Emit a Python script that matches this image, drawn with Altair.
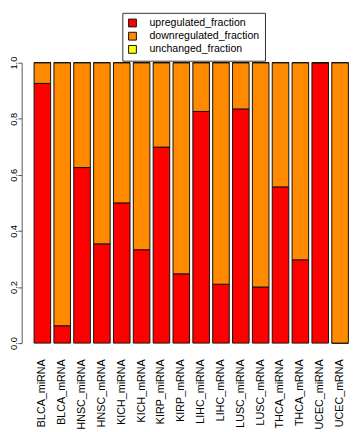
import altair as alt
import pandas as pd

categories = ["BLCA_miRNA", "BLCA_mRNA", "HNSC_miRNA", "HNSC_mRNA", "KICH_miRNA", "KICH_mRNA",
              "KIRP_miRNA", "KIRP_mRNA", "LIHC_miRNA", "LIHC_mRNA", "LUSC_miRNA", "LUSC_mRNA",
              "THCA_miRNA", "THCA_mRNA", "UCEC_miRNA", "UCEC_mRNA"]
upregulated = [0.926, 0.062, 0.626, 0.354, 0.500, 0.333, 0.699, 0.247, 0.826, 0.210, 0.835, 0.200,
               0.557, 0.297, 1.000, 0.000]
downregulated = [0.074, 0.938, 0.374, 0.646, 0.500, 0.667, 0.301, 0.753, 0.174, 0.790, 0.165, 0.800,
                 0.443, 0.703, 0.000, 1.000]
unchanged = [0.0, 0.0, 0.0, 0.0, 0.0, 0.0, 0.0, 0.0, 0.0, 0.0, 0.0, 0.0, 0.0, 0.0, 0.0, 0.0]

series_names = ["upregulated_fraction", "downregulated_fraction", "unchanged_fraction"]
series_colors = ["#FF0000", "#FF8A00", "#FFFF00"]
y_ticks = [0.0, 0.2, 0.4, 0.6, 0.8, 1.0]

rows = []
for k, (name, vals) in enumerate(zip(series_names, [upregulated, downregulated, unchanged])):
    for c, v in zip(categories, vals):
        rows.append({"category": c, "series": name, "value": v, "order": k})
df = pd.DataFrame(rows)

FONT = "Liberation Sans"

chart = alt.Chart(df).mark_bar(stroke="#111111", strokeWidth=1).encode(
    x=alt.X("category:N", sort=categories, title=None,
            scale=alt.Scale(paddingInner=0.165, paddingOuter=0.0825),
            axis=alt.Axis(labelAngle=270, labelAlign="right", labelBaseline="middle",
                          labelPadding=16, ticks=False, tickSize=0, domain=False,
                          labelFont=FONT, labelFontSize=11, labelColor="black")),
    y=alt.Y("value:Q", stack="zero", title=None,
            scale=alt.Scale(domain=[0, 1], nice=False, zero=True),
            axis=alt.Axis(values=y_ticks, format=".1f", offset=11, tickSize=4,
                          labelAngle=270, labelAlign="center", labelBaseline="alphabetic",
                          labelPadding=1, labelFont=FONT, labelFontSize=9.5, labelColor="black",
                          domainColor="#555555", tickColor="#555555", grid=False)),
    color=alt.Color("series:N", scale=alt.Scale(domain=series_names, range=series_colors),
                    legend=alt.Legend(orient="none", legendX=92, legendY=-51, title=None,
                                      strokeColor="#333333", fillColor="white", padding=5,
                                      symbolType="square", symbolSize=64,
                                      symbolStrokeColor="#111111", symbolStrokeWidth=1,
                                      labelFont=FONT, labelFontSize=10.8, labelColor="black",
                                      labelOffset=12, rowPadding=0.5)),
    order=alt.Order("order:Q"),
).properties(
    width=325, height=287,
    autosize=alt.AutoSizeParams(type="none"),
    padding={"left": 25, "top": 51, "right": 0, "bottom": 85},
).configure_view(stroke=None)

chart.save("out.html", embed_options={"renderer": "svg", "actions": False})
